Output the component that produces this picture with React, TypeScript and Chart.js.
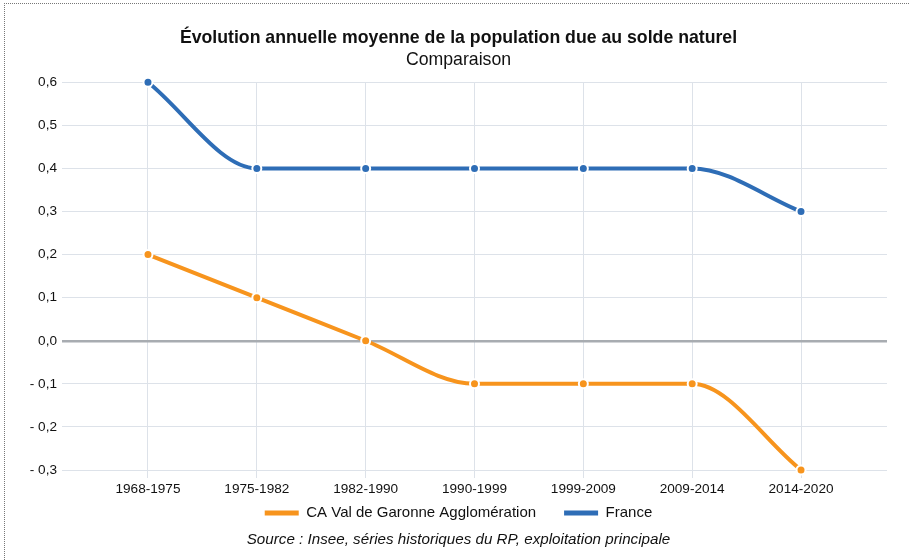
import React, { useEffect, useRef } from "react";
import { Chart, registerables } from "chart.js";

Chart.register(...registerables);

const periods = ["1968-1975", "1975-1982", "1982-1990", "1990-1999", "1999-2009", "2009-2014", "2014-2020"];
const caValues = [0.2, 0.1, 0.0, -0.1, -0.1, -0.1, -0.3];
const franceValues = [0.6, 0.4, 0.4, 0.4, 0.4, 0.4, 0.3];
const yTicks = [0.6, 0.5, 0.4, 0.3, 0.2, 0.1, 0.0, -0.1, -0.2, -0.3];

const FONT = "'Liberation Sans', Arial, Helvetica, sans-serif";
const ORANGE = "#F7941D";
const BLUE = "#2E6DB6";

function fmt(v: number): string {
  const r = Math.round(v * 10) / 10;
  const s = Math.abs(r).toFixed(1).replace(".", ",");
  return r < 0 ? "- " + s : s;
}

function lineDataset(label: string, values: number[], color: string) {
  return {
    label,
    data: values.map((v, i) => ({ x: i, y: v })),
    borderColor: color,
    backgroundColor: color,
    borderWidth: 4,
    cubicInterpolationMode: "monotone",
    pointRadius: 4.5,
    pointBorderColor: "#ffffff",
    pointBorderWidth: 2,
    pointBackgroundColor: color,
    clip: false,
  };
}

// widen the label clip areas of the axes so that labels are not cut
const labelAreaPlugin = {
  id: "labelArea",
  afterLayout(chart: any) {
    const x = chart.scales.x;
    const y = chart.scales.y;
    if (x) {
      x.bottom = x.top + 32;
    }
    if (y) {
      y.left = 0;
    }
  },
};

export default function App() {
  const ref = useRef<HTMLCanvasElement | null>(null);

  useEffect(() => {
    if (!ref.current) return;
    const chart = new Chart(ref.current, {
      type: "line",
      data: {
        datasets: [
          lineDataset("CA Val de Garonne Agglomération", caValues, ORANGE),
          lineDataset("France", franceValues, BLUE),
        ],
      },
      plugins: [labelAreaPlugin],
      options: {
        animation: false,
        responsive: true,
        maintainAspectRatio: false,
        layout: { padding: { left: 30, right: 22, top: 27.4, bottom: 29.5 } },
        plugins: {
          title: {
            display: true,
            text: "Évolution annuelle moyenne de la population due au solde naturel",
            color: "#111",
            font: { family: FONT, size: 17.7, weight: "bold" },
            padding: { top: 0, bottom: 1 },
          },
          subtitle: {
            display: true,
            text: "Comparaison",
            color: "#111",
            font: { family: FONT, size: 17.7, weight: "normal" },
            padding: { top: 0, bottom: 11.4 },
          },
          legend: {
            position: "bottom",
            labels: {
              color: "#111",
              font: { family: FONT, size: 15 },
              boxWidth: 34,
              boxHeight: 5,
              padding: 28,
              generateLabels: (c: any) =>
                Chart.defaults.plugins.legend.labels.generateLabels(c).map((l: any) => ({
                  ...l,
                  lineWidth: 0,
                  fillStyle: l.strokeStyle,
                })),
            },
          },
          tooltip: { enabled: false },
        },
        scales: {
          x: {
            type: "linear",
            min: -0.79,
            max: 6.79,
            afterBuildTicks: (scale: any) => {
              scale.ticks = periods.map((_, i) => ({ value: i }));
            },
            afterFit: (scale: any) => {
              scale.height = 7.5;
            },
            ticks: {
              autoSkip: false,
              maxRotation: 0,
              color: "#111",
              font: { family: FONT, size: 13.6 },
              padding: 3,
              callback: (v: any) => periods[Math.round(Number(v))] ?? "",
            },
            grid: { color: "#dde2e9", lineWidth: 1, drawTicks: true, tickLength: 8 },
            border: { display: false },
          },
          y: {
            min: -0.3,
            max: 0.6,
            afterBuildTicks: (scale: any) => {
              scale.ticks = yTicks.map((v) => ({ value: v }));
            },
            afterFit: (scale: any) => {
              scale.width = 32;
            },
            ticks: {
              color: "#111",
              font: { family: FONT, size: 13.6 },
              padding: 5,
              callback: (v: any) => fmt(Number(v)),
            },
            grid: {
              drawTicks: false,
              color: (ctx: any) => (ctx.tick && Math.abs(ctx.tick.value) < 1e-9 ? "#a8acb1" : "#dde2e9"),
              lineWidth: (ctx: any) => (ctx.tick && Math.abs(ctx.tick.value) < 1e-9 ? 2.5 : 1),
            },
            border: { display: false },
          },
        },
      },
    } as any);
    return () => chart.destroy();
  }, []);

  return (
    <div style={{ position: "absolute", left: 0, top: 0, width: 909, height: 560, background: "#fff", overflow: "hidden" }}>
      <div
        style={{
          position: "absolute",
          left: 4,
          top: 3,
          right: 0,
          bottom: 0,
          borderTop: "1px dotted #777",
          borderLeft: "1px dotted #777",
        }}
      />
      <canvas ref={ref} style={{ position: "absolute", left: 0, top: 0, width: 909, height: 560 }} />
      <div
        style={{
          position: "absolute",
          left: 0,
          width: 917,
          top: 530,
          textAlign: "center",
          fontFamily: FONT,
          fontStyle: "italic",
          fontSize: 15.2,
          color: "#111",
          lineHeight: "18px",
          whiteSpace: "nowrap",
        }}
      >
        Source : Insee, séries historiques du RP, exploitation principale
      </div>
    </div>
  );
}
